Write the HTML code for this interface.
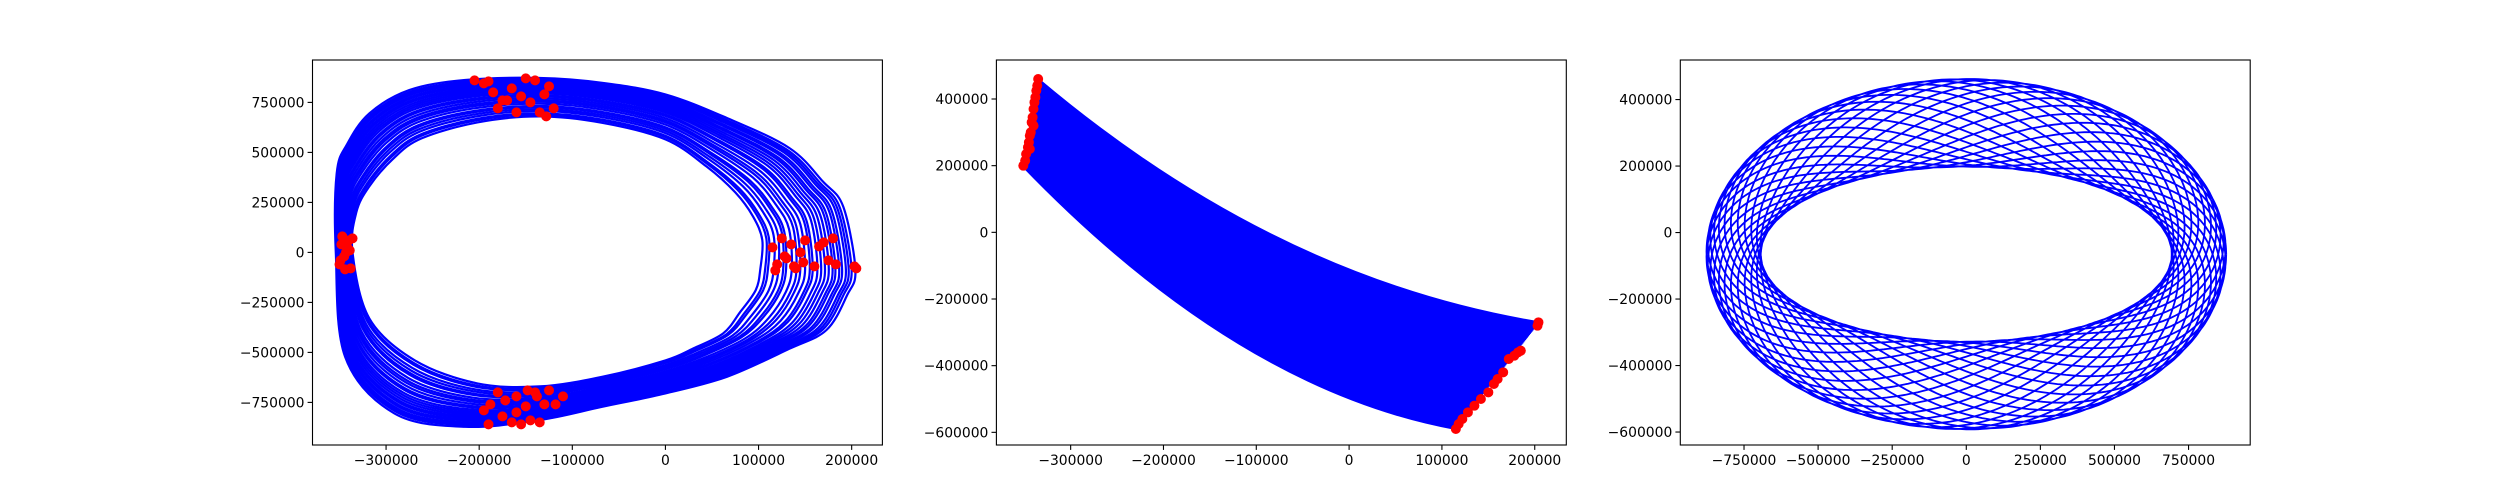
<!DOCTYPE html>
<html><head><meta charset="utf-8"><style>
html,body{margin:0;padding:0;background:#fff;width:2500px;height:500px;overflow:hidden}
svg text{font-family:"DejaVu Sans","Liberation Sans",sans-serif;font-size:13.9px;fill:#000}
</style></head><body>
<svg id="fig" width="2500" height="500" viewBox="0 0 2500 500" xmlns="http://www.w3.org/2000/svg"></svg>
<script>
// ---------- data ----------
// Panel 1 (values in thousands)
const p1OuterX=[-354,-353,-342,-318,-275,-215,-135,-68,0,66,133,169,191,204,195,173,133,66,0,-68,-135,-215,-291,-344];
const p1OuterY=[0,395,540,695,812,862,872,848,790,672,522,355,228,-88,-215,-388,-482,-622,-705,-772,-838,-872,-805,-522];
const p1InnerX=[-336,-332,-318,-292,-262,-202,-135,-68,0,44,75,94,104,102,97,80,62,30,0,-68,-135,-202,-269,-318];
const p1InnerY=[0,200,330,470,570,650,680,648,565,430,300,180,62,-80,-188,-300,-405,-480,-540,-622,-670,-655,-540,-330];
const p1LoopT=[0,0.05,0.08,0.14,0.19,0.24,0.27,0.33,0.38,0.42,0.47,0.52,0.55,0.6,0.64,0.68,0.72,0.76,0.79,0.83,0.86,0.9,0.93,0.96,1];
const p1DotX=[-348,-345,-340,-350,-343,-338,-347,-341,-349,-336,-344,-339,
 -205,-195,-185,-175,-165,-160,-150,-145,-140,-135,-130,-125,-120,-180,-170,-155,-190,-128,
 115,120,125,130,135,140,145,150,160,165,170,175,180,183,118,128,138,148,205,203,
 -195,-188,-180,-172,-165,-160,-155,-150,-145,-140,-135,-130,-125,-118,-110,-175,-160,-148,-138,-190];
const p1DotY=[ 40,-20,60,-60,0,-80,80,20,-40,70,-85,10,
 860,845,800,760,820,700,870,750,860,700,790,830,720,720,760,780,855,680,
 25,-60,70,-30,40,-80,0,60,-70,30,50,-40,70,-60,-90,-20,-70,-50,-80,-70,
 -790,-760,-700,-740,-850,-720,-860,-770,-840,-700,-850,-760,-690,-760,-720,-820,-800,-690,-720,-860];
// Panel 2 (thousands)
const p2Upper=[-335,460,-80,-140,205,-270];   // start x,y, control x,y, end x,y
const p2Lower=[-352,200,-120,-470,115,-590];
const p2CurveCount=[90];
const p2DotX=[-351,-349,-348,-346,-345,-344,-343,-342,-341,-340,-339,-338,-337,-336,-335,-344,-340,
 115,118,122,128,135,142,150,156,160,166,172,178,182,185,204,203];
const p2DotY=[200,215,235,255,270,290,300,330,345,370,390,405,425,440,460,250,320,
 -590,-575,-560,-540,-520,-500,-480,-455,-440,-420,-380,-370,-360,-355,-270,-280];
// Panel 3 (thousands)
const p3Ring=[785,92,395,132,-65];   // A, a, B, b, yOffset
const p3Winding=[2.0416667];         // tube oscillations per revolution
const p3Turns=[24];

// tick labels
const p1XTicks=[-300000,-200000,-100000,0,100000,200000];
const p1YTicks=[-750000,-500000,-250000,0,250000,500000,750000];
const p2XTicks=[-300000,-200000,-100000,0,100000,200000];
const p2YTicks=[-600000,-400000,-200000,0,200000,400000];
const p3XTicks=[-750000,-500000,-250000,0,250000,500000,750000];
const p3YTicks=[-600000,-400000,-200000,0,200000,400000];

// ---------- drawing ----------
const NS="http://www.w3.org/2000/svg";
const fig=document.getElementById('fig');
function mk(tag,attrs,parent){const e=document.createElementNS(NS,tag);for(const k in attrs)e.setAttribute(k,attrs[k]);(parent||fig).appendChild(e);return e;}
const TOP=60,BOT=445;
function makeAxes(left,right,xmin,xmax,ymin,ymax){
  return {sx:v=>left+(v-xmin)/(xmax-xmin)*(right-left), sy:v=>BOT-(v-ymin)/(ymax-ymin)*(BOT-TOP), left,right};
}
function fmt(v){return v<0?'\u2212'+Math.abs(v):String(v);}
function drawFrame(ax,xt,yt,idx){
  const g=mk('g',{});
  
  
  mk('rect',{x:ax.left,y:TOP,width:ax.right-ax.left,height:BOT-TOP,fill:'none',stroke:'#000','stroke-width':1.1},g);
  xt.forEach(v=>{const x=ax.sx(v*1e-3);
    mk('line',{x1:x,y1:BOT,x2:x,y2:BOT+4.9,stroke:'#000','stroke-width':1.1},g);
    const t=mk('text',{x:x,y:BOT+20,'text-anchor':'middle'},g);t.textContent=fmt(v);
    
    });
  yt.forEach(v=>{const y=ax.sy(v*1e-3);
    mk('line',{x1:ax.left-4.9,y1:y,x2:ax.left,y2:y,stroke:'#000','stroke-width':1.1},g);
    const t=mk('text',{x:ax.left-8,y:y+5,'text-anchor':'end'},g);t.textContent=fmt(v);
    
    });
}
function clip(ax,id){const c=mk('clipPath',{id:id});mk('rect',{x:ax.left,y:TOP,width:ax.right-ax.left,height:BOT-TOP},c);}
function dots(ax,xs,ys,g){xs.forEach((x,i)=>{const c=mk('circle',{cx:ax.sx(x),cy:ax.sy(ys[i]),r:5,fill:'#ff0000'},g);
  
  });}
function smoothClosed(P){
  const n=P.length;let d='M'+P[0][0].toFixed(1)+','+P[0][1].toFixed(1);
  for(let i=0;i<n;i++){const p0=P[(i-1+n)%n],p1=P[i],p2=P[(i+1)%n],p3=P[(i+2)%n];
    const c1=[p1[0]+(p2[0]-p0[0])/6,p1[1]+(p2[1]-p0[1])/6],c2=[p2[0]-(p3[0]-p1[0])/6,p2[1]-(p3[1]-p1[1])/6];
    d+='C'+c1[0].toFixed(1)+','+c1[1].toFixed(1)+' '+c2[0].toFixed(1)+','+c2[1].toFixed(1)+' '+p2[0].toFixed(1)+','+p2[1].toFixed(1);}
  return d+'Z';
}

// Panel 1
const a1=makeAxes(312.5,882.4,-379,233,-963,962);
clip(a1,'c1');
const g1=mk('g',{'clip-path':'url(#c1)'});


p1LoopT.forEach(t=>{
  const P=p1OuterX.map((_,k)=>[a1.sx(p1InnerX[k]+(p1OuterX[k]-p1InnerX[k])*t),a1.sy(p1InnerY[k]+(p1OuterY[k]-p1InnerY[k])*t)]);
  const p=mk('path',{d:smoothClosed(P),fill:'none',stroke:'#0000ff','stroke-width':2.2,'stroke-linejoin':'round'},g1);
  
  
});
dots(a1,p1DotX,p1DotY,g1);
drawFrame(a1,p1XTicks,p1YTicks,1);

// Panel 2
const a2=makeAxes(996.4,1566.3,-380,234,-638,517);
clip(a2,'c2');
const g2=mk('g',{'clip-path':'url(#c2)'});


const n2=p2CurveCount[0];
for(let i=0;i<n2;i++){const t=i/(n2-1);
  const q=j=>p2Lower[j]+(p2Upper[j]-p2Lower[j])*t;
  const d='M'+a2.sx(q(0))+','+a2.sy(q(1))+'Q'+a2.sx(q(2))+','+a2.sy(q(3))+' '+a2.sx(q(4))+','+a2.sy(q(5));
  const p=mk('path',{d:d,fill:'none',stroke:'#0000ff','stroke-width':2},g2);
  
  
}
dots(a2,p2DotX,p2DotY,g2);
drawFrame(a2,p2XTicks,p2YTicks,2);

// Panel 3
const a3=makeAxes(1680.3,2250.2,-965,958,-639,519);
clip(a3,'c3');
const g3=mk('g',{'clip-path':'url(#c3)'});


{const [A,a,B,b,y0]=p3Ring;const k=p3Winding[0];const turns=p3Turns[0];const N=turns*400;let d='';
 for(let i=0;i<=N;i++){const th=i/N*turns*2*Math.PI;const ph=k*th;
   const x=(A+a*Math.cos(ph))*Math.cos(th), y=y0+(B+b*Math.cos(ph))*Math.sin(th);
   d+=(i?'L':'M')+a3.sx(x).toFixed(1)+','+a3.sy(y).toFixed(1);}
 const p=mk('path',{d:d,fill:'none',stroke:'#0000ff','stroke-width':1.8},g3);
 
 }
drawFrame(a3,p3XTicks,p3YTicks,3);
</script>
</body></html>
